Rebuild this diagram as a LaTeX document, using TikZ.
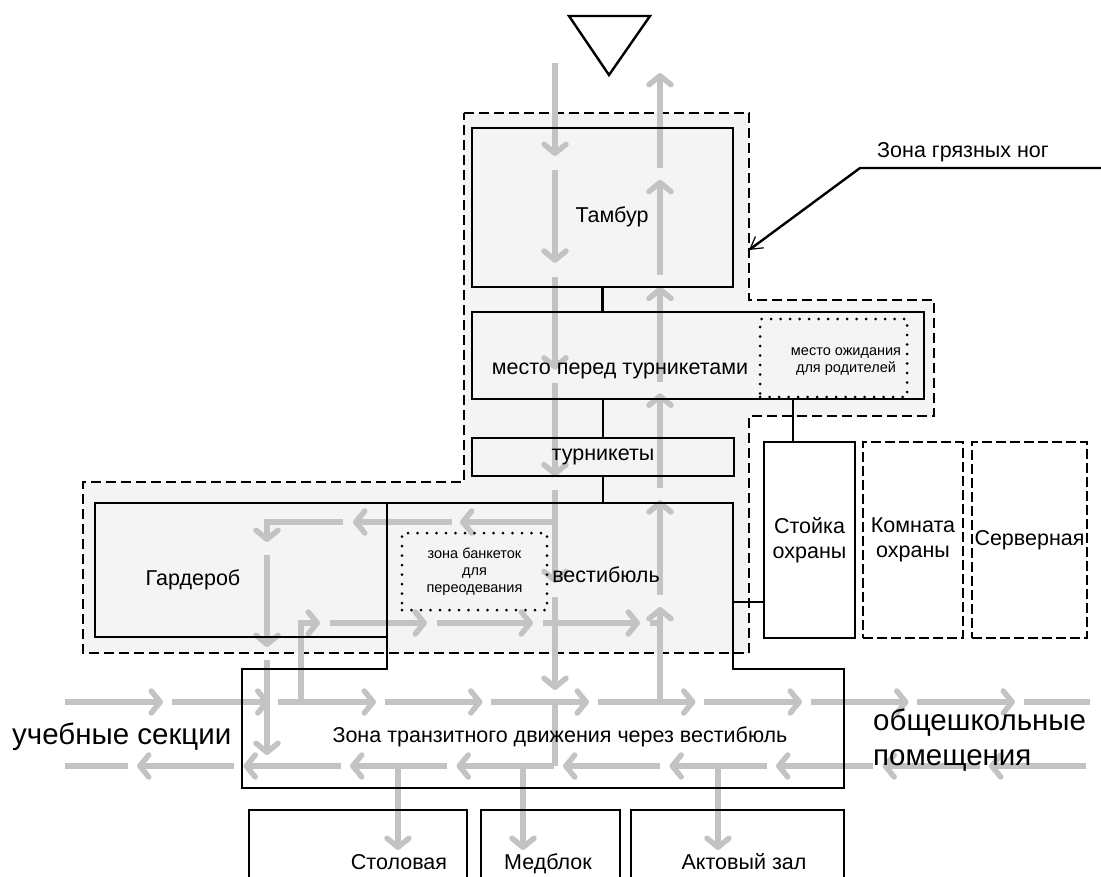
\documentclass[tikz,border=0pt]{standalone}
\usepackage{fontspec}
\setmainfont{Liberation Sans}
\usetikzlibrary{arrows.meta,positioning}

\definecolor{flowgray}{RGB}{195,195,195}
\definecolor{zonefill}{RGB}{244,244,244}

\tikzset{
  wall/.style={line width=2.4pt},
  box/.style={draw,line width=2.4pt,inner sep=0pt,align=center,font=\fontsize{21.5}{25}\selectfont},
  dbox/.style={box,line width=2.6pt,dash pattern=on 10pt off 4pt},
  dotbox/.style={draw,line width=3pt,dash pattern=on 0pt off 9.5pt,line cap=round,inner sep=0pt,align=center,font=\fontsize{14.5}{17}\selectfont},
  txt/.style={inner sep=0pt,align=center,font=\fontsize{21.5}{25}\selectfont},
  smalltxt/.style={inner sep=0pt,align=center,font=\fontsize{14.5}{17}\selectfont},
  bigtxt/.style={inner sep=0pt,align=left,font=\fontsize{29.5}{35}\selectfont},
  zone/.style={line width=1.6pt,dash pattern=on 10pt off 5pt,fill=zonefill},
  flow/.style={draw=flowgray,line width=5.5pt,-{Straight Barb[length=9pt,width=22pt,line width=5.5pt,round]}},
  flowline/.style={draw=flowgray,line width=5.5pt}
}

\begin{document}
\begin{tikzpicture}[x=1pt,y=-1pt]
\useasboundingbox (0,0) rectangle (1101,876);

% zone of dirty feet
\draw[zone] (464,113) -- (749,113) -- (749,300) -- (934,300) -- (934,416) -- (749,416)
  -- (749,653) -- (83,653) -- (83,482) -- (464,482) -- cycle;

% entrance
\draw[wall] (569,16) -- (650,16) -- (609,75) -- cycle;

% flows
\foreach \s in {0,...,8} \draw[flow] ({65+106.5*\s},702) -- ++(98,0);
\draw[flowline] (1023.5,702) -- (1090,702);
\foreach \s in {0,...,8} \draw[flow] ({234+106.5*\s},766) -- ++(-97,0);
\draw[flowline] (128,766) -- (65,766);
\foreach \s in {0,...,5} \draw[flow] (555,{63+106.8*\s}) -- ++(0,93);
\draw[flowline] (555,702) -- (555,766);
\foreach \s in {0,...,5} \draw[flow] (660,{702-106.8*\s}) -- ++(0,-95);

\draw[flow] (555,522) -- (460,522);
\draw[flow] (452,522) -- (353,522);
\draw[flow] (343,522) -- (267,522) -- (267,542);
\draw[flow] (267,555) -- (267,647);
\draw[flow] (267,660) -- (267,755);

\draw[flow] (301,702) -- (301,623) -- (320,623);
\draw[flow] (330,623) -- (427,623);
\draw[flow] (437,623) -- (533,623);
\draw[flow] (543,623) -- (640,623);
\draw[flowline] (650,623) -- (660,623);

\draw[flow] (398,766) -- (398,850);
\draw[flow] (523,766) -- (523,850);
\draw[flow] (718,766) -- (718,850);

% rooms
\node[box,minimum width=261pt,minimum height=159pt] (tambur) at (602.5,207.5) {};
\node[txt] (tamburtxt) at (612,217) {Тамбур};
\node[box,minimum width=452pt,minimum height=87pt] (pered) at (698,355.5) {};
\node[txt] (peredtxt) at (620,371) {место перед турникетами};
\node[dotbox,minimum width=147pt,minimum height=78pt] (ozhid) at (833.5,358) {};
\node[smalltxt] (ozhidtxt) at (846,362) {место ожидания\\для родителей};
\node[box,minimum width=262pt,minimum height=38pt] (turn) at (603,457) {турникеты};

\node[box,minimum width=292pt,minimum height=134pt] (garderob) at (241,570) {};
\node[txt] (garderobtxt) at (193,580) {Гардероб};
\draw[wall] (387,503) -- (733,503) -- (733,669) -- (844,669) -- (844,788) -- (242,788)
  -- (242,669) -- (387,669) -- cycle;
\node[txt] (vest) at (606,575) {вестибюль};
\node[dotbox,minimum width=145pt,minimum height=77pt] (banket) at (474.5,571.5) {зона банкеток\\для\\переодевания};
\node[txt] (transit) at (560,737) {Зона транзитного движения через вестибюль};

\node[box,minimum width=91pt,minimum height=196pt] (stoika) at (809.5,540) {Стойка\\охраны};
\node[dbox,minimum width=100pt,minimum height=196pt] (komnata) at (913,540) {Комната\\охраны};
\node[dbox,minimum width=115pt,minimum height=196pt] (server) at (1029.5,540) {Серверная};

\node[box,minimum width=218pt,minimum height=120pt,anchor=north west] (stol) at (248,809) {};
\node[txt,anchor=base] (stoltxt) at (399,869) {Столовая};
\node[box,minimum width=139pt,minimum height=120pt,anchor=north west] (med) at (480,809) {};
\node[txt,anchor=base] (medtxt) at (548,869) {Медблок};
\node[box,minimum width=213pt,minimum height=120pt,anchor=north west] (akt) at (630,809) {};
\node[txt,anchor=base] (akttxt) at (744,869) {Актовый зал};

\node[bigtxt,anchor=west] (ucheb) at (12,737) {учебные секции};
\node[bigtxt,anchor=west] (obsh) at (873,740) {общешкольные\\помещения};

% links
\coordinate (vtop) at (603,503);
\coordinate (vright) at (733,602);
\draw[wall] (tambur.south) -- (tambur.south |- pered.north);
\draw[wall] (turn.north) -- (turn.north |- pered.south);
\draw[wall] (turn.south) -- (turn.south |- vtop);
\draw[wall] ([xshift=-16.5pt]stoika.north) -- ([xshift=-16.5pt]stoika.north |- pered.south);
\draw[wall] (vright) -- (vright -| stoika.west);

% label
\node[txt] (zlabel) at (963,152) {Зона грязных ног};
\coordinate (zright) at (1101,168);
\coordinate (zbend) at (860,168);
\coordinate (zedge) at (749,250);
\draw[wall,-{Straight Barb[line width=1.2pt,length=12pt,width=14pt]}] (zright) -- (zbend) -- (zedge);
\end{tikzpicture}
\end{document}
